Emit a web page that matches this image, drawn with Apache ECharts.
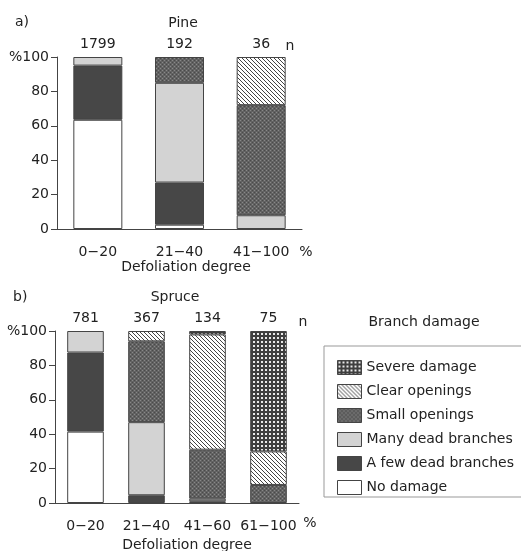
<!DOCTYPE html>
<html>
<head>
<meta charset="utf-8">
<script src="https://cdn.jsdelivr.net/npm/echarts@6/dist/echarts.min.js"></script>
</head>
<body style="margin:0">
<div id="chart" style="width:521px;height:551px"></div>
<script>
// data (% of trees per defoliation class)
var damageNames = ['Severe damage', 'Clear openings', 'Small openings', 'Many dead branches', 'A few dead branches', 'No damage'];

var pineCats = ['0\u221220', '21\u221240', '41\u2212100'];
var pineN = [1799, 192, 36];
var pineNoDamage = [63.5, 2.5, 0];
var pineFewDead = [31.5, 24.5, 0];
var pineManyDead = [5, 58, 8];
var pineSmallOpen = [0, 15, 64];
var pineClearOpen = [0, 0, 28];
var pineSevere = [0, 0, 0];

var spruceCats = ['0\u221220', '21\u221240', '41\u221260', '61\u2212100'];
var spruceN = [781, 367, 134, 75];
var spruceNoDamage = [41.5, 0, 0, 0];
var spruceFewDead = [46, 4.5, 1, 0];
var spruceManyDead = [12.5, 42.5, 1.5, 0];
var spruceSmallOpen = [0, 47, 28.5, 10.5];
var spruceClearOpen = [0, 6, 67, 19.5];
var spruceSevere = [0, 0, 2, 70];

// fill patterns
function pat(size, draw) {
  var c = document.createElement('canvas');
  c.width = c.height = size;
  draw(c.getContext('2d'));
  return { image: c, repeat: 'repeat' };
}
var hatch = pat(4, function (g) {
  g.fillStyle = '#fff'; g.fillRect(0, 0, 4, 4);
  g.strokeStyle = '#444'; g.lineWidth = 1;
  g.beginPath();
  g.moveTo(-1, -1); g.lineTo(5, 5);
  g.moveTo(-1, 3); g.lineTo(1, 5);
  g.moveTo(3, -1); g.lineTo(5, 1);
  g.stroke();
});
var checker = pat(4, function (g) {
  g.fillStyle = '#3e3e3e'; g.fillRect(0, 0, 4, 4);
  g.fillStyle = '#e8e8e8'; g.fillRect(1, 1, 2, 2);
});
var stipple = pat(4, function (g) {
  g.fillStyle = '#626262'; g.fillRect(0, 0, 4, 4);
  g.fillStyle = '#888'; g.fillRect(0, 0, 1, 1); g.fillRect(2, 2, 1, 1);
  g.fillStyle = '#4a4a4a'; g.fillRect(2, 0, 1, 1); g.fillRect(0, 2, 1, 1);
});

var fills = {
  'No damage': '#ffffff',
  'A few dead branches': '#474747',
  'Many dead branches': '#d3d3d3',
  'Small openings': stipple,
  'Clear openings': hatch,
  'Severe damage': checker
};

var pineSets = {
  'No damage': pineNoDamage, 'A few dead branches': pineFewDead, 'Many dead branches': pineManyDead,
  'Small openings': pineSmallOpen, 'Clear openings': pineClearOpen, 'Severe damage': pineSevere
};
var spruceSets = {
  'No damage': spruceNoDamage, 'A few dead branches': spruceFewDead, 'Many dead branches': spruceManyDead,
  'Small openings': spruceSmallOpen, 'Clear openings': spruceClearOpen, 'Severe damage': spruceSevere
};

var font = 'DejaVu Sans';
var txt = '#222';
var stackOrder = damageNames.slice().reverse();
var series = [];
stackOrder.forEach(function (name) {
  [[pineSets, 0, 'pine'], [spruceSets, 1, 'spruce']].forEach(function (s) {
    series.push({
      name: name, type: 'bar', stack: s[2],
      xAxisIndex: s[1], yAxisIndex: s[1],
      barWidth: '60%',
      data: s[0][name].map(function (v) { return v === 0 ? null : v; }),
      itemStyle: { color: fills[name], borderColor: '#444', borderWidth: 1 }
    });
  });
});

function yAxis(gi) {
  return {
    gridIndex: gi, type: 'value', min: 0, max: 100, interval: 20,
    splitLine: { show: false },
    axisLine: { show: true, lineStyle: { color: '#444' } },
    axisTick: { show: true, length: 6, lineStyle: { color: '#444' } },
    axisLabel: {
      color: txt, fontFamily: font, fontSize: 14, margin: 8,
      formatter: function (v) { return v === 100 ? '%100' : v; }
    }
  };
}
function catAxis(gi, cats) {
  return {
    gridIndex: gi, type: 'category', data: cats,
    axisLine: { lineStyle: { color: '#444' } },
    axisTick: { show: false },
    axisLabel: { color: txt, fontFamily: font, fontSize: 14, margin: 16, interval: 0, hideOverlap: false }
  };
}
function nAxis(gi, ns) {
  return {
    gridIndex: gi, type: 'category', data: ns, position: 'top',
    axisLine: { show: false }, axisTick: { show: false },
    axisLabel: { color: txt, fontFamily: font, fontSize: 14, margin: 6, interval: 0 }
  };
}

function t(x, y, s, align) {
  return { type: 'text', x: x, y: y, style: { text: s, fill: txt, font: '14px "' + font + '"', align: align || 'center', verticalAlign: 'middle' } };
}

var option = {
  animation: false,
  backgroundColor: '#fff',
  grid: [
    { left: 57, top: 57, width: 245, height: 172 },
    { left: 55, top: 331, width: 244, height: 172 }
  ],
  xAxis: [catAxis(0, pineCats), catAxis(1, spruceCats), nAxis(0, pineN), nAxis(1, spruceN)],
  yAxis: [yAxis(0), yAxis(1)],
  legend: {
    orient: 'vertical', left: 332, top: 355,
    data: damageNames,
    itemWidth: 24, itemHeight: 14, itemGap: 9,
    icon: 'rect',
    itemStyle: { borderColor: '#444', borderWidth: 1 },
    textStyle: { color: txt, fontFamily: font, fontSize: 14 },
    selectedMode: false
  },
  graphic: [
    t(15, 22, 'a)', 'left'),
    t(183, 23, 'Pine'),
    t(290, 46, 'n'),
    t(306, 252, '%'),
    t(186, 267, 'Defoliation degree'),
    t(13, 297, 'b)', 'left'),
    t(175, 297, 'Spruce'),
    t(303, 322, 'n'),
    t(310, 523, '%'),
    t(187, 545, 'Defoliation degree'),
    t(424, 322, 'Branch damage'),
    { type: 'rect', shape: { x: 324, y: 346, width: 220, height: 151 }, style: { fill: 'none', stroke: '#999', lineWidth: 1 } }
  ],
  series: series
};

var myChart = echarts.init(document.getElementById('chart'));
myChart.setOption(option);
</script>
</body>
</html>
